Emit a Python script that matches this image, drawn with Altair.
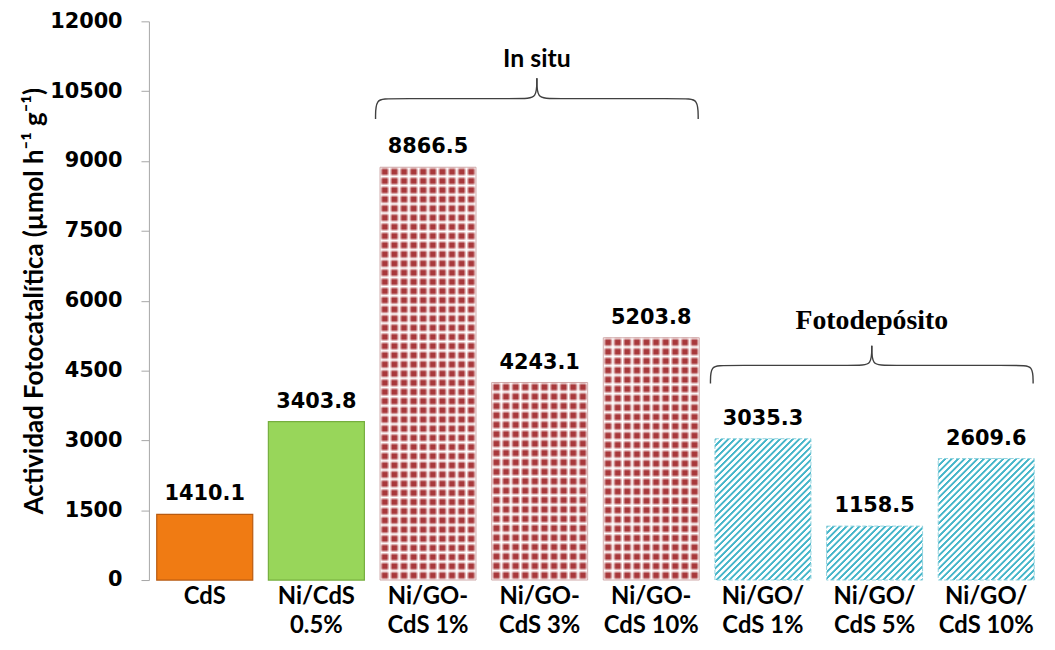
import altair as alt
import pandas as pd

# ---------------- data ----------------
categories = ["CdS", "Ni/CdS|0.5%", "Ni/GO-|CdS 1%", "Ni/GO-|CdS 3%", "Ni/GO-|CdS 10%",
              "Ni/GO/|CdS 1%", "Ni/GO/|CdS 5%", "Ni/GO/|CdS 10%"]
values = [1410.1, 3403.8, 8866.5, 4243.1, 5203.8, 3035.3, 1158.5, 2609.6]
groups = ["orange", "green", "insitu", "insitu", "insitu", "foto", "foto", "foto"]
y_ticks = [0, 1500, 3000, 4500, 6000, 7500, 9000, 10500, 12000]

group_names = ["In situ", "Fotodepósito"]
group_first = [2, 5]
group_last = [4, 7]
brace_base = [9900, 4220]
brace_mid = [10340, 4610]
brace_tip = [10780, 5030]
group_label_y = [11190, 5560]
group_fonts = ["Lato", "Liberation Serif"]
group_sizes = [25, 28]

# ---------------- layout ----------------
W, H = 900, 563
P_IN, P_OUT = 0.14, 0.07
BAND = W / len(categories)
BW = BAND * (1 - P_IN)
YMAX = 12000

RED = "#a8383b"
CYAN = "#45b5c9"

df = pd.DataFrame({"cat": categories, "value": values, "group": groups,
                   "idx": list(range(len(categories)))})


def xenc():
    return alt.X("cat:N", sort=categories,
                 scale=alt.Scale(paddingInner=P_IN, paddingOuter=P_OUT),
                 axis=alt.Axis(title=None, labelExpr="split(datum.label, '|')",
                               labelFont="Lato", labelFontSize=24, labelFontWeight="bold",
                               labelColor="black", labelPadding=5, labelLineHeight=29,
                               labelBaseline="top", labelAngle=0, domain=False,
                               ticks=False, labelLimit=300))


def yenc(field):
    return alt.Y(f"{field}:Q", scale=alt.Scale(domain=[0, YMAX], nice=False, zero=True),
                 axis=alt.Axis(values=y_ticks, format="d",
                               title="Actividad Fotocatalítica (µmol h⁻¹ g⁻¹)",
                               titleFont="Lato", titleFontSize=26, titleFontWeight="bold",
                               titleColor="black", titlePadding=2,
                               labelFont="DejaVu Sans", labelFontSize=21,
                               labelFontWeight="bold", labelColor="black",
                               labelPadding=19, tickSize=8, tickColor="#a6a6a6",
                               domainColor="#a6a6a6", grid=False, labelFlush=False))


def hatch_gradient(h):
    # diagonal "/" stripes of constant pixel period in bbox gradient units
    period = 6.5
    L = BW * (1 + (h / BW) ** 2)
    s = max(1.0, (BW + h) / L)
    dt = period / (s * L)
    stops = []
    k = 0
    while k * dt < 1:
        base = k * dt
        for ph, col in [(0.0, CYAN), (0.28, CYAN), (0.42, "white"), (0.86, "white")]:
            off = base + ph * dt
            if off <= 1:
                stops.append({"offset": off, "color": col})
        k += 1
    return {"gradient": "linear", "x1": 0, "y1": 0, "x2": s, "y2": s * h / BW,
            "stops": stops}


def column_gradient(ncol=10):
    d = 1 / ncol
    stops = []
    for k in range(ncol):
        b = k * d
        stops += [{"offset": b, "color": "white"},
                  {"offset": b + 0.3 * d, "color": RED},
                  {"offset": b + 0.7 * d, "color": RED},
                  {"offset": b + d, "color": "white"}]
    return {"gradient": "linear", "x1": 0, "y1": 0, "x2": 1, "y2": 0, "stops": stops}


def row_gradient(h, period=9.3):
    n = max(1, round(h / period))
    d = 1 / n
    stops = []
    for k in range(n):
        b = k * d
        stops += [{"offset": b, "color": "rgba(255,255,255,1)"},
                  {"offset": b + 0.3 * d, "color": "rgba(255,255,255,0)"},
                  {"offset": b + 0.7 * d, "color": "rgba(255,255,255,0)"},
                  {"offset": b + d, "color": "rgba(255,255,255,1)"}]
    return {"gradient": "linear", "x1": 0, "y1": 0, "x2": 0, "y2": 1, "stops": stops}


base = alt.Chart(df)
bar_layers = []
for i, (c, v, g) in enumerate(zip(categories, values, groups)):
    h = v / YMAX * H
    sub = base.transform_filter(alt.datum.idx == i)
    enc = dict(x=xenc(), y=yenc("value"))
    if g == "orange":
        bar_layers.append(sub.mark_bar(fill="#f07b13", stroke="#b85a10", strokeWidth=1.2)
                          .encode(**enc))
    elif g == "green":
        bar_layers.append(sub.mark_bar(fill="#98d65a", stroke="#76ae3e", strokeWidth=1.2)
                          .encode(**enc))
    elif g == "insitu":
        bar_layers.append(sub.mark_bar(fill=column_gradient()).encode(**enc))
        bar_layers.append(sub.mark_bar(fill=row_gradient(h), stroke="#c89a9a",
                                       strokeWidth=0.8).encode(**enc))
    else:
        bar_layers.append(sub.mark_bar(fill=hatch_gradient(h), stroke="#8fd3de",
                                       strokeWidth=1, strokeDash=[4, 2]).encode(**enc))

text_layer = base.mark_text(font="DejaVu Sans", fontSize=21, fontWeight="bold",
                            color="black", baseline="bottom", dy=-10).encode(
    x=xenc(), y=yenc("value"), text=alt.Text("value:Q", format=".1f"))

bars = alt.layer(*bar_layers, text_layer)

# ---------------- braces ----------------
rows = []
for gi, name in enumerate(group_names):
    x0 = group_first[gi] + 0.03
    x1 = group_last[gi] + 0.92
    xc = (x0 + x1) / 2
    b, m, t = brace_base[gi], brace_mid[gi], brace_tip[gi]
    for side, xe, sgn in [("L", x0, 1), ("R", x1, -1)]:
        pts = [(xe, b), (xe, m), (xe + sgn * 0.12, m), (xc - sgn * 0.12, m), (xc, m), (xc, t)]
        for o, (px, py) in enumerate(pts):
            rows.append({"seg": f"{gi}{side}", "ord": o, "bx": px, "by": py})
brace_df = pd.DataFrame(rows)

xq = alt.Scale(domain=[0, len(categories)], nice=False, zero=False)

braces = alt.Chart(brace_df).mark_line(interpolate="basis", color="#404040",
                                       strokeWidth=1.4).encode(
    x=alt.X("bx:Q", scale=xq, axis=None),
    y=yenc("by"),
    detail="seg:N",
    order="ord:Q")

label_layers = []
for gi, name in enumerate(group_names):
    ldf = pd.DataFrame({"lx": [(group_first[gi] + 0.03 + group_last[gi] + 0.92) / 2],
                        "ly": [group_label_y[gi]], "txt": [name]})
    label_layers.append(alt.Chart(ldf).mark_text(
        font=group_fonts[gi], fontSize=group_sizes[gi], fontWeight="bold",
        color="black", baseline="middle", align="center").encode(
        x=alt.X("lx:Q", scale=xq, axis=None), y=yenc("ly"), text="txt:N"))

annot = alt.layer(braces, *label_layers)

chart = alt.layer(bars, annot).resolve_scale(x="independent").properties(
    width=W, height=H,
    autosize=alt.AutoSizeParams(type="none"),
    padding={"left": 142, "top": 11, "right": 5, "bottom": 60},
    background="white",
).configure_view(stroke=None)

chart.save("out.html", embed_options={"renderer": "svg", "actions": False})
